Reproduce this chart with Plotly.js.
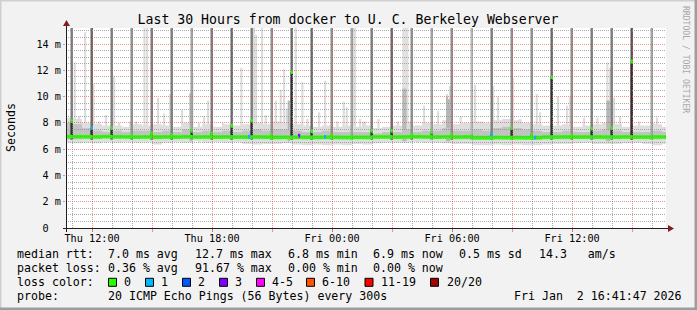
<!DOCTYPE html>
<html><head><meta charset="utf-8">
<script src="https://cdn.plot.ly/plotly-3.0.1.min.js"></script>
<style>html,body{margin:0;padding:0;background:#f2f2f2}#c{width:697px;height:310px}</style>
</head><body><div id="c"></div><script>
// ================= DATA (values in ms) =================
const graphStart = '2026-01-01 10:41:47';
const graphEnd   = '2026-01-02 16:41:47';
const yMax = 15.22;

const yTickVals = [0, 2, 4, 6, 8, 10, 12, 14];
const yTickText = ['0\u00a0\u00a0', '2 m', '4 m', '6 m', '8 m', '10 m', '12 m', '14 m'];
const xTickVals = ['2026-01-01 12:00', '2026-01-01 18:00', '2026-01-02 00:00', '2026-01-02 06:00', '2026-01-02 12:00'];
const xTickText = ['Thu 12:00', 'Thu 18:00', 'Fri 00:00', 'Fri 06:00', 'Fri 12:00'];

// half-hour smoke bins, first bin centred at Thu 10:45
const l1Hi = [8.4,8.3,8.0,7.9,7.8,7.8,7.7,7.9,7.8,7.9, 7.8,7.7,8.0,7.7,7.9,7.7,7.9,7.8,7.9,8.0,
              7.9,8.1,8.0,7.9,7.8,7.7,7.8,7.7,7.8,7.7, 7.8,7.6,7.7,7.8,8.1,7.8,8.0,7.9,8.2,7.9,
              8.0,8.1,8.0,8.2,8.3,8.2,8.0,7.9,7.8,7.8, 7.9,7.7,7.8,7.9,8.0,7.9,7.7,7.8,7.8,7.9, 7.7];
const l1Lo = [6.5,6.45,6.5,6.45,6.55,6.5,6.55,6.5,6.55,6.35, 6.5,6.55,6.5,6.6,6.5,6.55,6.5,6.55,6.4,6.35,
              6.4,6.4,6.45,6.35,6.3,6.35,6.3,6.35,6.3,6.4, 6.35,6.45,6.5,6.5,6.5,6.55,6.5,6.5,6.45,6.4,
              6.4,6.3,6.3,6.35,6.3,6.35,6.3,6.3,6.35,6.4, 6.4,6.45,6.5,6.4,6.4,6.4,6.45,6.5,6.4,6.3, 6.4];
const l2Hi = [8.0,7.9,7.6,7.4,7.3,7.4,7.3,7.4,7.4,7.3, 7.4,7.3,7.5,7.3,7.4,7.3,7.4,7.3,7.4,7.5,
              7.4,7.5,7.5,7.4,7.3,7.3,7.4,7.3,7.3,7.3, 7.3,7.2,7.3,7.3,7.5,7.3,7.4,7.4,7.6,7.4,
              7.4,7.5,7.4,7.6,7.7,7.6,7.5,7.4,7.3,7.3, 7.4,7.3,7.3,7.4,7.5,7.4,7.3,7.3,7.3,7.4, 7.3];
const l2Lo = [6.75,6.75,6.8,6.8,6.85,6.8,6.85,6.8,6.85,6.75, 6.8,6.85,6.8,6.85,6.8,6.85,6.8,6.85,6.75,6.75,
              6.75,6.75,6.8,6.75,6.75,6.75,6.75,6.75,6.75,6.8, 6.75,6.8,6.8,6.8,6.8,6.85,6.8,6.8,6.8,6.75,
              6.75,6.7,6.7,6.75,6.75,6.75,6.75,6.7,6.75,6.75, 6.75,6.8,6.8,6.75,6.75,6.75,6.8,6.8,6.75,6.75, 6.8];
const medBase = [6.95,6.95,6.94,6.93,6.95,6.94,6.93,6.92,6.93,6.92, 6.93,6.92,6.94,6.92,6.93,6.92,6.93,6.92,6.92,6.93,
                 6.92,6.9,6.9,6.91,6.9,6.9,6.91,6.9,6.89,6.9, 6.9,6.93,6.93,6.92,6.93,6.94,6.93,6.92,6.93,6.92,
                 6.93,6.88,6.88,6.89,6.88,6.88,6.87,6.88,6.92,6.92, 6.93,6.92,6.92,6.93,6.92,6.92,6.93,6.92,6.92,6.93, 6.92];

// single high outlier pings (light smoke), "day hh:mm"
const lightTimes = ['1 11:08','1 11:21','1 11:39','1 12:04','1 12:20','1 12:42','1 13:06','1 13:21','1 13:54','1 14:12',
  '1 14:37','1 14:45','1 15:18','1 15:36','1 15:54','1 16:30','1 16:54','1 17:01','1 17:21','1 17:36',
  '1 17:48','1 18:33','1 19:00','1 19:28','1 20:06','1 20:12','1 20:30','1 20:41','1 21:11','1 21:26',
  '1 21:36','1 21:44','1 22:11','1 22:31','1 22:46','1 23:21','1 23:39','2 00:16','2 00:35','2 00:44',
  '2 01:04','2 01:09','2 01:24','2 01:33','2 01:39','2 02:19','2 03:18','2 03:34','2 03:40','2 03:46',
  '2 04:16','2 04:36','2 05:18','2 05:45','2 05:54','2 06:26','2 07:00','2 07:09','2 07:31','2 08:03',
  '2 08:18','2 08:45','2 09:03','2 09:24','2 09:39','2 10:14','2 10:24','2 11:18','2 11:45','2 11:54',
  '2 12:36','2 13:16','2 13:46','2 13:54','2 14:06','2 14:24','2 15:21','2 16:04','2 16:15','2 16:26'];
const lightTops = [12.6,8.5,14.9,11.0,8.1,8.6,11.6,8.0,8.1,8.1,
  16,16,9.9,8.7,10.2,9.0,10.2,11.8,8.0,8.5,
  9.7,8.0,9.7,12.2,16,14.7,16,8.6,9.7,10.5,
  12.1,9.1,16,11.1,8.3,8.8,11.2,8.1,9.6,9.2,
  16,16,8.3,8.1,8.1,8.3,8.1,16,16,16,
  7.8,9.3,8.9,10.2,10.8,8.5,10.8,10.9,8.1,10.8,
  10.0,7.9,11.4,8.3,8.0,10.2,8.8,10.0,9.3,10.0,
  8.4,8.4,12.6,12.2,9.9,8.5,8.1,8.0,8.4,7.7];

// several high pings (mid smoke)
const midTimes = ['1 16:56','1 21:50','2 03:34','2 03:40','2 05:45','2 05:51','2 13:46','2 13:51'];
const midTops  = [10.3, 9.7, 10.6, 10.6, 10.0, 9.8, 9.7, 9.7];

// hourly bursts: median, number of pings above the graph top, lost pings
const spikeTimes = ['1 10:59','1 11:59','1 12:59','1 13:59','1 14:59','1 15:59','1 16:59','1 17:59','1 18:59','1 19:59',
  '1 20:59','1 21:59','1 22:59','1 23:59','2 00:59','2 01:59','2 02:59','2 03:59','2 04:59','2 05:59',
  '2 06:59','2 07:59','2 08:59','2 09:59','2 10:59','2 11:59','2 12:59','2 13:59','2 14:59','2 15:59'];
const spikeMed = [8.14,7.61,7.6,7.07,7.2,7.1,7.4,7.2,7.77,8.17, 7.1,11.86,7.37,7.07,7.0,7.4,7.4,7.1,7.26,7.1,
                  7.0,7.13,7.6,7.1,11.48,7.07,7.56,7.6,12.66,6.95];
const spikeOff = [6,7,6,5,6,6,4,6,7,6, 5,7,7,5,4,6,7,5,4,5, 3,6,5,5,7,5,6,6,8,4];
const spikeLoss = [0,1,0,0,0,0,0,0,0,0, 0,0,0,0,0,0,0,0,0,0, 0,1,0,0,0,0,0,0,0,0];

// lossy rounds on the baseline
const lossTimes = ['1 19:51','1 22:21','1 23:39','2 10:09'];
const lossMed   = [6.95, 7.03, 6.93, 6.88];
const lossCount = [1, 3, 1, 1];

const lossLabels = ['0','1','2','3','4-5','6-10','11-19','20/20'];
const lossLow    = [0,1,2,3,4,6,11,20];
const lossHigh   = [0,1,2,3,5,10,19,20];
const lossColors = ['#26ff00','#00b8ff','#0059ff','#7e00ff','#ff00ff','#ff5500','#ff0000','#a10000'];

const rttStats  = ['7.0 ms avg','12.7 ms max','6.8 ms min','6.9 ms now','0.5 ms sd','14.3   am/s'];
const lossStats = ['0.36 % avg','91.67 % max','0.00 % min','0.00 % now'];
const probeText = '20 ICMP Echo Pings (56 Bytes) every 300s';
const stampText = 'Fri Jan  2 16:41:47 2026';

// ================= helpers =================
const FONT = 'DejaVu Sans Mono';
const STEP = 300000, BIN = 1800000;
const T = s => { const [d, hm] = s.split(' '); return '2026-01-0' + d + ' ' + hm; };
const fmt = ms => { const d = new Date(ms), p = n => String(n).padStart(2, '0');
  return d.getUTCFullYear() + '-' + p(d.getUTCMonth() + 1) + '-' + p(d.getUTCDate()) + ' ' + p(d.getUTCHours()) + ':' + p(d.getUTCMinutes()); };
const bin0 = Date.UTC(2026, 0, 1, 10, 45);
const binTimes = l1Hi.map((_, j) => fmt(bin0 + j * BIN));
const lossColor = n => { for (let i = 0; i < lossLow.length; i++) if (n >= lossLow[i] && n <= lossHigh[i]) return lossColors[i]; return lossColors[0]; };
const smokeGray = n => { const v = Math.floor(190 / 10 * (10 - n)) + 50; const h = v.toString(16).padStart(2, '0'); return '#' + h + h + h; };
const nb = s => s.replace(/ /g, '\u00a0');

function bars(x, base, top, color, width) {
  return { type: 'bar', x: x, base: base, y: top.map((t, i) => t - base[i]), width: width,
    marker: { color: color, line: { width: 0 } }, hoverinfo: 'skip', showlegend: false };
}
const HW = 0.14; // half thickness of median band
const SW = 1.5 * STEP;

const traces = [
  bars(lightTimes.map(T), lightTimes.map(() => 6.5), lightTops, '#dddddd', 1.3 * STEP),
  bars(binTimes, l1Lo, l1Hi, '#dedede', BIN),
  bars(midTimes.map(T), midTimes.map(() => 6.6), midTops, '#b7b7b7', 1.3 * STEP),
  bars(binTimes, l2Lo, l2Hi, '#c2c2c2', BIN),
  bars(spikeTimes.map(T), spikeTimes.map(() => 6.7), spikeTimes.map(() => 16), spikeOff.map(smokeGray), SW),
  bars(spikeTimes.map(T), spikeTimes.map(() => 6.8), spikeMed.map(m => Math.max(m, 6.8)), '#323232', SW),
  bars(binTimes, medBase.map(m => m - HW), medBase.map(m => m + HW), lossColors[0], BIN),
  bars(lossTimes.map(T), lossMed.map(m => m - HW), lossMed.map(m => m + HW), lossCount.map(lossColor), 1.3 * STEP),
  bars(spikeTimes.map(T), spikeMed.map(m => m - HW), spikeMed.map(m => m + HW), spikeLoss.map(lossColor), SW)
];

// ================= layout decorations =================
const L = 66, TOP = 28, W = 600, H = 200;
const px = p => (p - L) / W, py = p => (TOP + H - p) / H;
const GRID = 'rgba(143,143,143,0.75)', MGRID = 'rgba(222,79,79,0.6)';
const shapes = [];
for (let k = 1; k * 0.5 <= yMax; k++) {
  const v = k * 0.5, row = Math.floor(TOP + H - v * H / yMax) + 0.5;
  shapes.push({ type: 'line', xref: 'paper', yref: 'paper', x0: 0, x1: 1, y0: py(row), y1: py(row), layer: 'above',
    line: { color: (k % 4 === 0) ? MGRID : GRID, width: 1, dash: '1px,1px' } });
}
const t0 = Date.parse('2026-01-01T10:41:47Z');
for (let h = 11; h <= 40; h++) {
  const tm = Date.UTC(2026, 0, 1, h, 0), col = Math.floor(L + (tm - t0) / 180000) + 0.5;
  shapes.push({ type: 'line', xref: 'paper', yref: 'paper', x0: px(col), x1: px(col), y0: 0, y1: 1, layer: 'above',
    line: { color: (h % 3 === 0) ? MGRID : GRID, width: 1, dash: '1px,1px' } });
}
// axes + arrows
shapes.push({ type: 'line', xref: 'paper', yref: 'paper', x0: px(63), x1: px(669), y0: py(228.5), y1: py(228.5), layer: 'above', line: { color: '#1f1f1f', width: 1 } });
shapes.push({ type: 'line', xref: 'paper', yref: 'paper', x0: px(66.5), x1: px(66.5), y0: py(232), y1: py(25), layer: 'above', line: { color: '#1f1f1f', width: 1 } });
shapes.push({ type: 'path', xref: 'paper', yref: 'paper', layer: 'above', fillcolor: '#801f1f', line: { width: 0 },
  path: `M${px(668)},${py(225)} L${px(674)},${py(228.5)} L${px(668)},${py(232)} Z` });
shapes.push({ type: 'path', xref: 'paper', yref: 'paper', layer: 'above', fillcolor: '#801f1f', line: { width: 0 },
  path: `M${px(63)},${py(26)} L${px(66.5)},${py(20)} L${px(70)},${py(26)} Z` });
// frame
shapes.push({ type: 'rect', xref: 'paper', yref: 'paper', x0: px(0), x1: px(697), y0: py(0), y1: py(1.5), fillcolor: '#cfcfcf', line: { width: 0 }, layer: 'below' });
shapes.push({ type: 'rect', xref: 'paper', yref: 'paper', x0: px(0), x1: px(1.5), y0: py(0), y1: py(310), fillcolor: '#cfcfcf', line: { width: 0 }, layer: 'below' });
shapes.push({ type: 'rect', xref: 'paper', yref: 'paper', x0: px(0), x1: px(697), y0: py(307.5), y1: py(310), fillcolor: '#9e9e9e', line: { width: 0 }, layer: 'below' });
shapes.push({ type: 'rect', xref: 'paper', yref: 'paper', x0: px(694.5), x1: px(697), y0: py(0), y1: py(310), fillcolor: '#9e9e9e', line: { width: 0 }, layer: 'below' });

const ann = [];
const txt = (x, y, s, size, extra) => Object.assign({ xref: 'paper', yref: 'paper', x: px(x), y: py(y), text: nb(s), showarrow: false,
  xanchor: 'left', yanchor: 'middle', borderpad: 0, font: { family: FONT, size: size || 11.6, color: '#000' } }, extra || {});
const LY = [254.3, 268.3, 282.3, 296];
const statX = [107.3, 194, 286.7, 372.3, 458.3, 537.7];
ann.push(txt(16, LY[0], 'median rtt:'));
rttStats.forEach((s, i) => ann.push(txt(statX[i], LY[0], s)));
ann.push(txt(16, LY[1], 'packet loss:'));
lossStats.forEach((s, i) => ann.push(txt(statX[i], LY[1], s)));
ann.push(txt(16, LY[2], 'loss color:'));
const boxX = [108.5, 145.5, 182.5, 219.5, 256.5, 306.5, 365, 430.5];
const labX = [122.7, 160, 196.7, 234, 270.7, 320.7, 380, 446];
lossLabels.forEach((s, i) => {
  shapes.push({ type: 'rect', xref: 'paper', yref: 'paper', x0: px(boxX[i]), x1: px(boxX[i] + 8), y0: py(278.3), y1: py(286.3),
    fillcolor: lossColors[i], line: { color: '#000', width: 1 }, layer: 'above' });
  ann.push(txt(labX[i], LY[2], s));
});
ann.push(txt(16, LY[3], 'probe:'));
ann.push(txt(107.3, LY[3], probeText));
ann.push(txt(513.3, LY[3], stampText));
ann.push(txt(11, 128, 'Seconds', 11.6, { xanchor: 'center', textangle: -90 }));
ann.push(txt(686, 59, 'RRDTOOL / TOBI OETIKER', 8.1, { xanchor: 'center', textangle: 90, font: { family: FONT, size: 8.1, color: '#a8a8a8' } }));

const layout = {
  width: 697, height: 310,
  margin: { l: L, r: 697 - L - W, t: TOP, b: 310 - TOP - H, pad: 0 },
  paper_bgcolor: '#f2f2f2', plot_bgcolor: '#ffffff',
  barmode: 'overlay', showlegend: false, hovermode: false,
  title: { text: 'Last 30 Hours from docker to U. C. Berkeley Webserver', x: 348 / 697, y: 1 - 19.3 / 310,
    xref: 'container', yref: 'container', xanchor: 'center', yanchor: 'middle', font: { family: FONT, size: 13.2, color: '#000' } },
  xaxis: { type: 'date', range: [graphStart, graphEnd], tickmode: 'array', tickvals: xTickVals, ticktext: xTickText,
    ticks: 'outside', ticklen: 3, tickcolor: MGRID, showgrid: false, zeroline: false, showline: false,
    ticklabelstandoff: -2,
    tickfont: { family: FONT, size: 10.2, color: '#000' },
    minor: { dtick: 10800000, ticks: 'outside', ticklen: 3, tickcolor: MGRID, showgrid: false }, fixedrange: true },
  yaxis: { range: [0, yMax], tickmode: 'array', tickvals: yTickVals, ticktext: yTickText,
    ticks: 'outside', ticklen: 2, tickcolor: MGRID, showgrid: false, zeroline: false, showline: false,
    tickfont: { family: FONT, size: 10.2, color: '#000' }, fixedrange: true },
  shapes: shapes, annotations: ann
};
Plotly.newPlot('c', traces, layout, { staticPlot: true, displayModeBar: false });
</script></body></html>
